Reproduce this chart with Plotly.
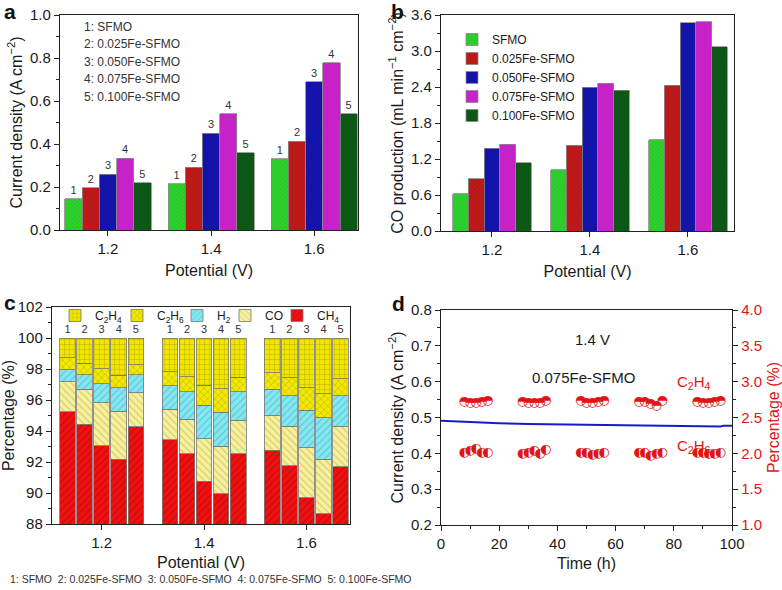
import plotly.graph_objects as go

# ---------------- data ----------------
potentials = [1.2, 1.4, 1.6]
potential_labels = ["1.2", "1.4", "1.6"]
samples = ["SFMO", "0.025Fe-SFMO", "0.050Fe-SFMO", "0.075Fe-SFMO", "0.100Fe-SFMO"]
sample_ids = ["1", "2", "3", "4", "5"]

# panel a: current density (A cm-2), per sample at 1.2/1.4/1.6 V
current_sfmo = [0.145, 0.214, 0.332]
current_025 = [0.197, 0.293, 0.412]
current_050 = [0.259, 0.450, 0.690]
current_075 = [0.334, 0.540, 0.777]
current_100 = [0.220, 0.360, 0.540]

# panel b: CO production (mL min-1 cm-2)
co_sfmo = [0.62, 1.02, 1.52]
co_025 = [0.87, 1.43, 2.43]
co_050 = [1.38, 2.40, 3.47]
co_075 = [1.45, 2.46, 3.49]
co_100 = [1.14, 2.35, 3.07]

# panel c: product percentages; order = (1.2 V: samples 1-5), (1.4 V: 1-5), (1.6 V: 1-5)
pct_ch4 = [95.24, 94.44, 93.06, 92.19, 94.27,
           93.45, 92.54, 90.75, 89.95, 92.54,
           92.76, 91.76, 89.69, 88.65, 91.68]
pct_co = [1.93, 2.25, 2.77, 3.07, 2.21,
          1.94, 2.21, 2.74, 3.07, 2.16,
          2.24, 2.55, 3.22, 3.54, 2.59]
pct_h2 = [0.78, 0.95, 1.23, 1.54, 1.16,
          1.52, 1.77, 2.16, 2.20, 1.82,
          1.69, 1.95, 2.44, 2.66, 1.99]
pct_c2h6 = [0.77, 0.74, 0.97, 0.80, 0.63,
            0.91, 0.97, 1.30, 1.52, 0.95,
            1.08, 1.17, 1.43, 1.54, 1.12]
pct_c2h4 = [1.28, 1.62, 1.97, 2.40, 1.73,
            2.18, 2.51, 3.05, 3.26, 2.53,
            2.23, 2.57, 3.22, 3.61, 2.62]

# panel d: stability at 1.4 V
time_h = [0, 5, 10, 20, 30, 40, 50, 60, 70, 80, 90, 96, 97, 100]
current_time = [0.491, 0.489, 0.487, 0.484, 0.482, 0.481, 0.480, 0.479,
                0.478, 0.477, 0.476, 0.475, 0.477, 0.477]
t_points = [8, 10, 12, 14, 16, 28, 30, 32, 34, 36, 48, 50, 52, 54, 56,
            68, 70, 72, 74, 76, 88, 90, 92, 94, 96]
pct_c2h4_time = [2.72, 2.70, 2.71, 2.72, 2.73, 2.72, 2.71, 2.70, 2.71, 2.74,
                 2.73, 2.71, 2.71, 2.72, 2.73, 2.72, 2.72, 2.69, 2.67, 2.74,
                 2.72, 2.71, 2.71, 2.72, 2.73]
pct_c2h6_time = [2.01, 2.03, 2.06, 2.01, 2.01, 2.00, 2.01, 2.04, 1.99, 2.05,
                 2.01, 2.01, 1.98, 1.99, 2.01, 2.01, 2.01, 1.96, 1.99, 2.01,
                 2.01, 2.01, 1.99, 2.00, 2.01]

# ---------------- style ----------------
FONT = "Liberation Sans, Arial, Helvetica, sans-serif"
TXT = "#1a1a1a"
RED = "#e01515"
bar_colors = ["#2ed22e", "#c01a1a", "#1414ae", "#cc22cc", "#0d5a16"]
bar_fg = ["#1a9a1a", "#8a0c0c", "#0a0a78", "#962096", "#063a0c"]
W, H = 782, 590

fig = go.Figure()

# ---- panel a ----
current_series = [current_sfmo, current_025, current_050, current_075, current_100]
step_a = 0.0334
for i, vals in enumerate(current_series):
    fig.add_trace(go.Bar(
        x=[p + (i - 2) * step_a for p in potentials], y=vals, width=step_a,
        marker=dict(color=bar_colors[i], line=dict(color="#8a8a8a", width=0.8),
                    pattern=dict(shape="x", size=3, solidity=0.25, fgcolor=bar_fg[i], fgopacity=0.5)),
        text=[sample_ids[i]] * 3, textposition="outside", cliponaxis=False,
        textfont=dict(size=11, color="#333", family=FONT),
        showlegend=False, xaxis="x", yaxis="y"))

# ---- panel b ----
co_series = [co_sfmo, co_025, co_050, co_075, co_100]
step_b = 0.0322
for i, vals in enumerate(co_series):
    fig.add_trace(go.Bar(
        x=[p + (i - 2) * step_b for p in potentials], y=vals, width=step_b, name=samples[i],
        marker=dict(color=bar_colors[i], line=dict(color="#8a8a8a", width=0.8),
                    pattern=dict(shape="x", size=3, solidity=0.25, fgcolor=bar_fg[i], fgopacity=0.5)),
        legend="legend", showlegend=True, xaxis="x2", yaxis="y2"))

# ---- panel c ----
step_c = 0.0334
x_c = [p + (i - 2) * step_c for p in potentials for i in range(5)]
# (name, values, colour, hatch, hatch colour, legend id, legend left px)
components = [
    ("CH<sub>4</sub>", pct_ch4, "#ee1111", "/", "#8a0000", "legend6", 277),
    ("CO", pct_co, "#f6ef9c", "\\", "#a89a30", "legend5", 225),
    ("H<sub>2</sub>", pct_h2, "#84e6f0", "/", "#2b9aaa", "legend4", 177),
    ("C<sub>2</sub>H<sub>6</sub>", pct_c2h6, "#f2e800", "x", "#7a6e00", "legend3", 117),
    ("C<sub>2</sub>H<sub>4</sub>", pct_c2h4, "#f2e600", "+", "#7a6e00", "legend2", 55),
]
for j, (name, vals, col, shp, fg, leg, _) in enumerate(components):
    top = j == len(components) - 1
    fig.add_trace(go.Bar(
        x=x_c, y=vals, width=0.0305, name=name, legend=leg,
        marker=dict(color=col, line=dict(color="#777", width=0.8),
                    pattern=dict(shape=shp, size=5, solidity=0.18, fgcolor=fg)),
        text=(sample_ids * 3) if top else None,
        textposition="outside" if top else "none", cliponaxis=False,
        textfont=dict(size=11, color="#333", family=FONT),
        xaxis="x3", yaxis="y3"))

# ---- panel d ----
fig.add_trace(go.Scatter(x=time_h, y=current_time, mode="lines",
                         line=dict(color="#1a1acc", width=2), showlegend=False,
                         xaxis="x4", yaxis="y4"))
fig.add_trace(go.Scatter(x=t_points, y=pct_c2h4_time, mode="text", text=["\u25d3"] * len(t_points),
                         textfont=dict(color=RED, size=13, family="DejaVu Sans"),
                         showlegend=False, xaxis="x4", yaxis="y5"))
fig.add_trace(go.Scatter(x=t_points, y=pct_c2h6_time, mode="text", text=["\u25d0"] * len(t_points),
                         textfont=dict(color=RED, size=13, family="DejaVu Sans"),
                         showlegend=False, xaxis="x4", yaxis="y5"))


def axis(**kw):
    d = dict(showline=True, linecolor="#222", linewidth=1.4, mirror=True, ticks="outside",
             ticklen=5, tickwidth=1.2, tickcolor="#222", showgrid=False, zeroline=False,
             automargin=False,
             tickfont=dict(size=15, color=TXT, family=FONT),
             title_font=dict(size=16, color=TXT, family=FONT))
    d.update(kw)
    return d


def px_x(a, b):
    return [a / W, b / W]


def px_y(top, bottom):
    return [1 - bottom / H, 1 - top / H]


legends = {}
for (_, _, _, _, _, leg, left) in components:
    legends[leg] = dict(x=left / W, y=1 - 301 / H, xanchor="left", yanchor="top",
                        orientation="h", bgcolor="rgba(0,0,0,0)", itemwidth=30,
                        font=dict(size=12, color=TXT, family=FONT))

fig.update_layout(
    width=W, height=H, margin=dict(l=0, r=0, t=0, b=0, autoexpand=False),
    paper_bgcolor="white", plot_bgcolor="white", barmode="stack",
    font=dict(family=FONT, color=TXT),
    xaxis=axis(domain=px_x(60, 358), anchor="y", range=[1.107, 1.685],
               tickvals=potentials, ticktext=potential_labels, title_text="Potential (V)", title_standoff=8),
    yaxis=axis(domain=px_y(15, 230), anchor="x", range=[0, 1.0], dtick=0.2, tickformat=".1f",
               minor=dict(ticks="outside", dtick=0.1, ticklen=3, tickcolor="#222"),
               title_text="Current density (A cm<sup>\u22122</sup>)", title_standoff=3),
    xaxis2=axis(domain=px_x(441, 734), anchor="y2", range=[1.096, 1.694],
                tickvals=potentials, ticktext=potential_labels, title_text="Potential (V)", title_standoff=8),
    yaxis2=axis(domain=px_y(15, 231), anchor="x2", range=[0, 3.6], dtick=0.6, tickformat=".1f",
                minor=dict(ticks="outside", dtick=0.3, ticklen=3, tickcolor="#222"),
                title_text="CO production (mL min<sup>\u22121</sup> cm<sup>\u22122</sup>)", title_standoff=3),
    xaxis3=axis(domain=px_x(52, 350), anchor="y3", range=[1.103, 1.685],
                tickvals=potentials, ticktext=potential_labels, title_text="Potential (V)", title_standoff=6),
    yaxis3=axis(domain=px_y(307, 524), anchor="x3", range=[88, 102], dtick=2,
                minor=dict(ticks="outside", dtick=1, ticklen=3, tickcolor="#222"),
                title_text="Percentage (%)", title_standoff=4),
    xaxis4=axis(domain=px_x(441, 732), anchor="y4", range=[0, 100], dtick=20,
                minor=dict(ticks="outside", dtick=10, ticklen=3, tickcolor="#222"),
                title_text="Time (h)", title_standoff=6),
    yaxis4=axis(domain=px_y(310, 525), anchor="x4", range=[0.2, 0.8], dtick=0.1, tickformat=".1f",
                mirror=False,
                minor=dict(ticks="outside", dtick=0.05, ticklen=3, tickcolor="#222"),
                title_text="Current density (A cm<sup>\u22122</sup>)", title_standoff=3),
    yaxis5=axis(overlaying="y4", side="right", anchor="x4", range=[1.0, 4.0], dtick=0.5,
                tickformat=".1f", mirror=False,
                tickfont=dict(size=15, color=RED, family=FONT),
                minor=dict(ticks="outside", dtick=0.25, ticklen=3, tickcolor="#222"),
                title_text="Percentage (%)", title_font=dict(size=16, color=RED, family=FONT),
                title_standoff=6),
    legend=dict(x=452 / W, y=1 - 25 / H, xanchor="left", yanchor="top",
                bgcolor="rgba(0,0,0,0)", font=dict(size=12, color=TXT, family=FONT),
                traceorder="normal", tracegroupgap=0),
    **legends,
)

ann = []
for letter, x0, y0 in [("a", 2, -2), ("b", 389, -2), ("c", 2, 289), ("d", 390, 290)]:
    ann.append(dict(text="<b>%s</b>" % letter, x=x0 / W, y=1 - y0 / H, xref="paper", yref="paper",
                    xanchor="left", yanchor="top", showarrow=False,
                    font=dict(size=21, color="#111", family=FONT)))
for i, s in enumerate(samples):
    ann.append(dict(text="%s: %s" % (sample_ids[i], s), x=0.075, y=0.945 - i * 0.0815,
                    xref="x domain", yref="y domain", xanchor="left", yanchor="middle",
                    showarrow=False, font=dict(size=12, color="#333", family=FONT)))
ann.append(dict(text="\u00a0\u00a0".join("%s: %s" % (sample_ids[i], s) for i, s in enumerate(samples)),
                x=210 / W, y=1 - 579 / H, xref="paper", yref="paper", xanchor="center",
                yanchor="middle", showarrow=False, font=dict(size=10.5, color="#333", family=FONT)))
ann.append(dict(text="1.4 V", x=52, y=0.718, xref="x4", yref="y4", showarrow=False,
                font=dict(size=15, color=TXT, family=FONT)))
ann.append(dict(text="0.075Fe-SFMO", x=49, y=0.613, xref="x4", yref="y4", showarrow=False,
                font=dict(size=15, color=TXT, family=FONT)))
ann.append(dict(text="C<sub>2</sub>H<sub>4</sub>", x=87, y=0.598, xref="x4", yref="y4", showarrow=False,
                font=dict(size=15, color=RED, family=FONT)))
ann.append(dict(text="C<sub>2</sub>H<sub>6</sub>", x=87, y=0.418, xref="x4", yref="y4", showarrow=False,
                font=dict(size=15, color=RED, family=FONT)))
fig.update_layout(annotations=ann)

fig.write_html("out.html", config={"displayModeBar": False},
               post_script="document.body.style.margin='0';document.body.style.overflow='hidden';")
